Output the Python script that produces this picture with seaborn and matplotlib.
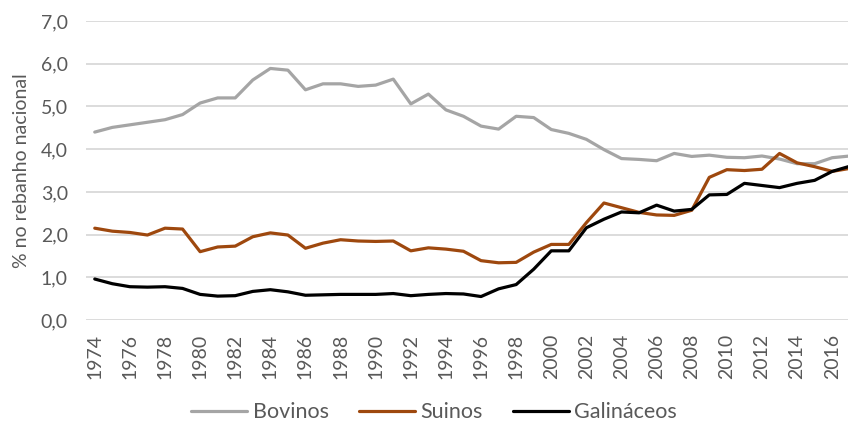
import pandas as pd
import seaborn as sns
import matplotlib.pyplot as plt
from matplotlib.ticker import FuncFormatter

years = list(range(1974, 2018))

bovinos = [4.40, 4.51, 4.57, 4.63, 4.69, 4.81, 5.08, 5.20, 5.20, 5.62,
           5.89, 5.85, 5.39, 5.53, 5.53, 5.47, 5.50, 5.64, 5.06, 5.29,
           4.92, 4.77, 4.54, 4.47, 4.77, 4.74, 4.46, 4.37, 4.23, 3.99,
           3.78, 3.76, 3.73, 3.90, 3.83, 3.86, 3.81, 3.80, 3.84, 3.77,
           3.66, 3.66, 3.80, 3.84]

suinos = [2.15, 2.08, 2.05, 1.99, 2.15, 2.13, 1.60, 1.71, 1.73, 1.95,
          2.04, 1.99, 1.68, 1.80, 1.88, 1.85, 1.84, 1.85, 1.62, 1.69,
          1.66, 1.61, 1.39, 1.34, 1.35, 1.59, 1.77, 1.77, 2.28, 2.74,
          2.63, 2.52, 2.46, 2.45, 2.57, 3.34, 3.52, 3.50, 3.53, 3.90,
          3.68, 3.59, 3.48, 3.55]

galinaceos = [0.96, 0.85, 0.78, 0.77, 0.78, 0.74, 0.60, 0.56, 0.57, 0.67,
              0.71, 0.66, 0.58, 0.59, 0.60, 0.60, 0.60, 0.62, 0.57, 0.60,
              0.62, 0.61, 0.55, 0.73, 0.83, 1.19, 1.62, 1.62, 2.16, 2.36,
              2.53, 2.51, 2.69, 2.55, 2.59, 2.93, 2.94, 3.20, 3.15, 3.10,
              3.20, 3.27, 3.48, 3.60]

series = ["Bovinos", "Suinos", "Galináceos"]
colors = ["#A5A5A5", "#9E480E", "#000000"]

df = pd.DataFrame({"Bovinos": bovinos, "Suinos": suinos, "Galináceos": galinaceos}, index=years)
df.index.name = "ano"
df_long = df.reset_index().melt(id_vars="ano", var_name="especie", value_name="valor")

sns.set_style("white")
plt.rcParams['font.family'] = ['Lato', 'DejaVu Sans']
grey_txt = "#595959"

fig = plt.figure(figsize=(8.48, 4.25), dpi=100)
ax = fig.add_axes([0.1014, 0.247, 0.8986, 0.7035])

sns.lineplot(data=df_long, x="ano", y="valor", hue="especie", hue_order=series,
             palette=colors, linewidth=2.3, ax=ax, legend=False)

ax.set_xlim(1973.5, 2016.9)
ax.set_ylim(0, 7)
ax.set_yticks([0, 1, 2, 3, 4, 5, 6, 7])
ax.yaxis.set_major_formatter(FuncFormatter(lambda v, p: f"{v:.1f}".replace(".", ",")))
ax.set_xticks(years[::2])
ax.set_xticklabels([str(y) for y in years[::2]], rotation=90)

ax.grid(axis="y", color="#D9D9D9", linewidth=1.3)
ax.grid(axis="x", visible=False)
ax.set_axisbelow(True)
for s in ax.spines.values():
    s.set_visible(False)

ax.tick_params(axis="y", length=0, pad=13, labelsize=14, labelcolor=grey_txt)
ax.tick_params(axis="x", length=0, pad=10, labelsize=14, labelcolor=grey_txt)

ax.set_xlabel("")
ax.set_ylabel("% no rebanho nacional", fontsize=14, color=grey_txt, labelpad=8)

handles = [plt.Line2D([], [], color=c, linewidth=2.3) for c in colors]
fig.legend(handles, series, loc="center", bbox_to_anchor=(0.512, 0.03), ncol=3,
           frameon=False, fontsize=15.5, handlelength=2.6, handletextpad=0.25,
           columnspacing=1.4, labelcolor=grey_txt)

plt.savefig("out.png", dpi=100)
